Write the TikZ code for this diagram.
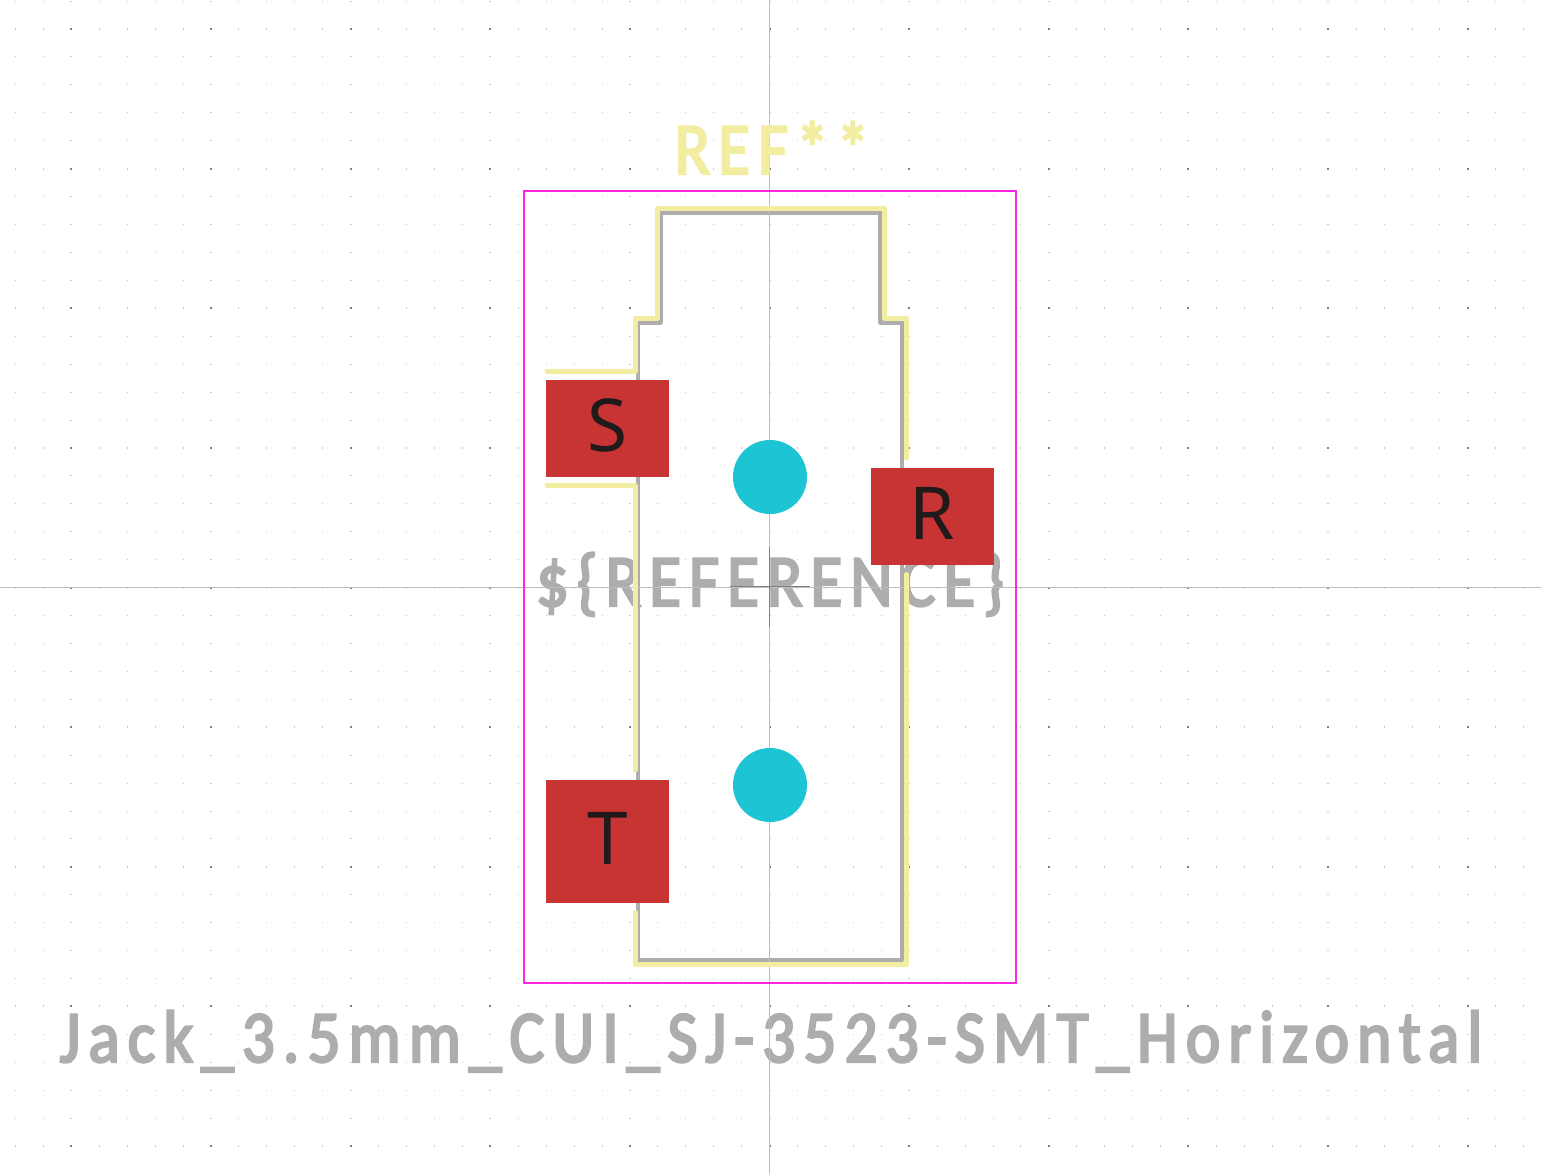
\documentclass[tikz,border=0pt]{standalone}
\usepackage{fontspec}
\setmainfont{Noto Sans}
\newfontfamily\strokefont[FakeBold=3.2,FakeStretch=0.88,LetterSpace=11]{Carlito}
\definecolor{silk}{HTML}{F2EDA1}
\definecolor{fab}{HTML}{ADADAD}
\definecolor{court}{HTML}{FF26E2}
\definecolor{padred}{HTML}{C83434}
\definecolor{holecyan}{HTML}{1CC4D4}
\definecolor{padtext}{HTML}{201A1A}
\definecolor{axisgray}{HTML}{BDBDBD}
\definecolor{griddark}{HTML}{808080}
\definecolor{gridlight}{HTML}{CACACA}
\tikzset{
  griddot/.style={fill=gridlight},
  fabline/.style={draw=fab,line width=4.4pt,line join=round},
  silkline/.style={draw=silk,line width=5pt,line cap=round,line join=round},
  padbox/.style={rectangle,fill=padred,text=padtext,inner sep=0pt,minimum width=123pt,
    font=\fontsize{73}{73}\selectfont,text height=52pt,text depth=7pt},
  hole/.style={circle,fill=holecyan,inner sep=0pt,minimum size=74pt},
  stroketext/.style={inner sep=0pt,anchor=base,font=\strokefont\fontsize{#1}{#1}\selectfont},
}
\begin{document}
\begin{tikzpicture}[x=1pt,y=-1pt]
  \useasboundingbox[fill=white] (0,0) rectangle (1541,1174);
  % grid
  \foreach \i in {-27,...,27}
    \foreach \j in {-21,...,20}
      \fill[griddot] ({769.5+27.93*\i-0.4},{587.5+27.93*\j-0.4}) rectangle +(0.8,0.8);
  \foreach \i in {-25,-20,...,25}
    \foreach \j in {-21,...,20}
      \fill[griddot] ({769.5+27.93*\i-1},{587.5+27.93*\j-0.4}) rectangle +(2,0.8);
  \foreach \i in {-27,...,27}
    \foreach \j in {-20,-15,...,20}
      \fill[griddot] ({769.5+27.93*\i-0.4},{587.5+27.93*\j-1}) rectangle +(0.8,2);
  \foreach \i in {-25,-20,...,25}
    \foreach \j in {-20,-15,...,20}
      \fill[griddark] ({769.5+27.93*\i-1},{587.5+27.93*\j-1}) rectangle +(2,2);
  % fab layer
  \node[stroketext=74,text=fab] (value) at (771,1062) {Jack\_3.5mm\_CUI\_SJ-3523-SMT\_Horizontal};
  \node[stroketext=74,text=fab] (reference) at (770,606) {\$\{REFERENCE\}};
  \draw[fabline] (660.5,213) -- (880.5,213) -- (880.5,322.5) -- (902,322.5) -- (902,960)
    -- (638,960) -- (638,322.5) -- (660.5,322.5) -- cycle;
  % origin
  \draw[axisgray] (769.5,0) -- (769.5,1174);
  \draw[axisgray] (0,587.5) -- (1541,587.5);
  \draw[griddark] (730,586.5) -- (810,586.5);
  \draw[griddark] (769.5,547) -- (769.5,627);
  % silk layer
  \draw[silkline] (547,371.5) -- (635,371.5) -- (635,318.5) -- (657,318.5) -- (657,208.5)
    -- (884.5,208.5) -- (884.5,318.5) -- (906.5,318.5) -- (906.5,458);
  \draw[silkline] (547,485) -- (635,485) -- (635,770);
  \draw[silkline] (906.5,574.5) -- (906.5,964) -- (635,964) -- (635,912);
  \node[stroketext=74,text=silk] (ref) at (772,174) {REF**};
  % courtyard
  \draw[court,line width=2pt] (524,191) rectangle (1016,983);
  % holes and pads
  \node[hole] (holetop) at (770,477) {};
  \node[hole] (holebot) at (770,785) {};
  \node[padbox,minimum height=97pt] (padS) at (607.5,428.5) {S};
  \node[padbox,minimum height=97pt] (padR) at (932.5,516.5) {R};
  \node[padbox,minimum height=123pt] (padT) at (607.5,841.5) {T};
\end{tikzpicture}
\end{document}
